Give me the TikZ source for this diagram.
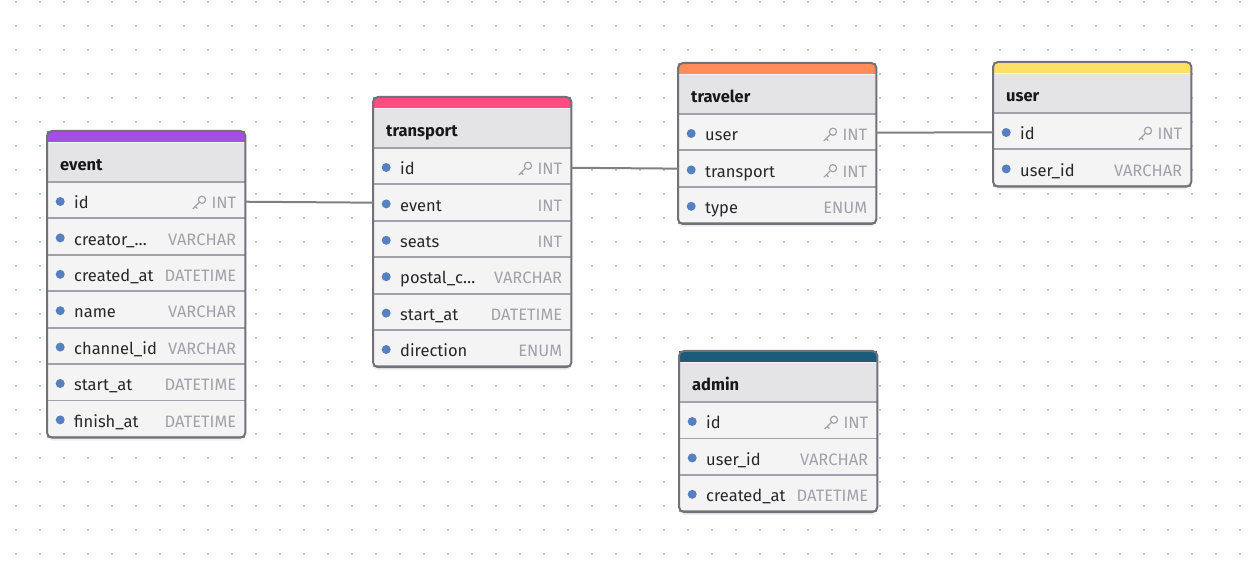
\documentclass[tikz,border=0pt]{standalone}
\usepackage{fontspec}
\setmainfont{Fira Sans}
\usepackage{tikz}
\usetikzlibrary{positioning,backgrounds,shadows}

\definecolor{griddot}{RGB}{178,200,222}
\definecolor{framegray}{RGB}{113,113,122}
\definecolor{headgray}{RGB}{228,228,231}
\definecolor{rowgray}{RGB}{244,244,245}
\definecolor{sepgray}{RGB}{161,161,170}
\definecolor{typegray}{RGB}{161,161,170}
\definecolor{fieldink}{RGB}{39,39,42}
\definecolor{titleink}{RGB}{24,24,27}
\definecolor{dotblue}{RGB}{86,128,190}
\definecolor{linkgray}{RGB}{128,128,128}
\definecolor{evpurple}{RGB}{166,77,230}
\definecolor{trpink}{RGB}{255,77,128}
\definecolor{tvorange}{RGB}{255,140,89}
\definecolor{usyellow}{RGB}{255,224,102}
\definecolor{adteal}{RGB}{26,92,122}

\tikzstyle{stripe} = [rectangle, minimum width=198pt, minimum height=11pt, inner sep=0pt]
\tikzstyle{titlerow} = [rectangle, fill=headgray, minimum width=198pt, minimum height=40pt, inner sep=0pt, text width=172pt, text height=15.5pt, text depth=0pt, align=left, text=titleink, font=\fontsize{16.5}{20}\selectfont\bfseries, path picture={\draw[sepgray, line width=3pt] (path picture bounding box.south west) -- (path picture bounding box.south east);}]
\tikzstyle{field} = [rectangle, fill=rowgray, minimum width=198pt, minimum height=36pt, inner sep=0pt, text width=180pt, text height=15.5pt, text depth=0pt, align=left, text=fieldink, font=\fontsize{16.5}{20}\selectfont, path picture={\fill[dotblue] ([xshift=13pt, yshift=-0.5pt]path picture bounding box.west) circle (4.5pt); \draw[sepgray, line width=3pt] (path picture bounding box.south west) -- (path picture bounding box.south east);}]
\tikzstyle{frame} = [draw=framegray, line width=2pt, rounded corners=5pt]
\tikzstyle{line} = [draw=linkgray, line width=2pt]

\newcommand{\keyicon}{\tikz[baseline=-9pt, x=1pt, y=1pt]\draw[typegray, line width=1.2pt, rotate=45] (0,0) circle (3.6pt) (-3.6,0) -- (-13,0) (-9.5,0) -- (-9.5,-3);}
\newcommand{\fld}[2]{\hspace*{18pt}#1\hfill{\color{typegray}#2}}
\newcommand{\pk}{\keyicon\hspace{5pt}}

\begin{document}
\begin{tikzpicture}[x=1pt, y=-1pt]
  \useasboundingbox (0,0) rectangle (1256,577);
  \begin{scope}[on background layer]
    \fill[white] (0,0) rectangle (1256,577);
    \foreach \i in {0,...,51}
      \foreach \j in {0,...,23}
        \fill[griddot] (15+24*\i, 1+24*\j) rectangle ++(2,2);
  \end{scope}

  % event
  \node [stripe, fill=evpurple, anchor=north west] (event) at (47,131) {};
  \node [titlerow, below=0pt of event] (event-title) {event};
  \node [field, below=0pt of event-title] (event-id) {\fld{id}{\pk INT}};
  \node [field, below=0pt of event-id] (event-creator) {\fld{creator\_…}{VARCHAR}};
  \node [field, below=0pt of event-creator] (event-created) {\fld{created\_at}{DATETIME}};
  \node [field, below=0pt of event-created] (event-name) {\fld{name}{VARCHAR}};
  \node [field, below=0pt of event-name] (event-channel) {\fld{channel\_id}{VARCHAR}};
  \node [field, below=0pt of event-channel] (event-start) {\fld{start\_at}{DATETIME}};
  \node [field, below=0pt of event-start] (event-finish) {\fld{finish\_at}{DATETIME}};

  % transport
  \node [stripe, fill=trpink, anchor=north west] (transport) at (373,97) {};
  \node [titlerow, below=0pt of transport] (transport-title) {transport};
  \node [field, below=0pt of transport-title] (transport-id) {\fld{id}{\pk INT}};
  \node [field, below=0pt of transport-id] (transport-event) {\fld{event}{INT}};
  \node [field, below=0pt of transport-event] (transport-seats) {\fld{seats}{INT}};
  \node [field, below=0pt of transport-seats] (transport-postal) {\fld{postal\_c…}{VARCHAR}};
  \node [field, below=0pt of transport-postal] (transport-start) {\fld{start\_at}{DATETIME}};
  \node [field, below=0pt of transport-start] (transport-direction) {\fld{direction}{ENUM}};

  % traveler
  \node [stripe, fill=tvorange, anchor=north west] (traveler) at (678,63) {};
  \node [titlerow, below=0pt of traveler] (traveler-title) {traveler};
  \node [field, below=0pt of traveler-title] (traveler-user) {\fld{user}{\pk INT}};
  \node [field, below=0pt of traveler-user] (traveler-transport) {\fld{transport}{\pk INT}};
  \node [field, below=0pt of traveler-transport] (traveler-type) {\fld{type}{ENUM}};

  % user
  \node [stripe, fill=usyellow, anchor=north west] (user) at (993,62) {};
  \node [titlerow, below=0pt of user] (user-title) {user};
  \node [field, below=0pt of user-title] (user-id) {\fld{id}{\pk INT}};
  \node [field, below=0pt of user-id] (user-userid) {\fld{user\_id}{VARCHAR}};

  % admin
  \node [stripe, fill=adteal, anchor=north west] (admin) at (679,351) {};
  \node [titlerow, below=0pt of admin] (admin-title) {admin};
  \node [field, below=0pt of admin-title] (admin-id) {\fld{id}{\pk INT}};
  \node [field, below=0pt of admin-id] (admin-userid) {\fld{user\_id}{VARCHAR}};
  \node [field, below=0pt of admin-userid] (admin-created) {\fld{created\_at}{DATETIME}};

  % table frames
  \foreach \t/\l in {event/event-finish, transport/transport-direction, traveler/traveler-type, user/user-userid, admin/admin-created} {
    \begin{scope}[on background layer]
      \fill[rowgray, rounded corners=5pt, drop shadow={shadow xshift=0pt, shadow yshift=-3pt, opacity=0.12}] (\t.north west) rectangle (\l.south east);
    \end{scope}
    \draw[frame] (\t.north west) rectangle (\l.south east);
  }

  \path [line] (event-id) -- (transport-event);
  \path [line] (transport-id) -- (traveler-transport);
  \path [line] (traveler-user) -- (user-id);
\end{tikzpicture}
\end{document}
